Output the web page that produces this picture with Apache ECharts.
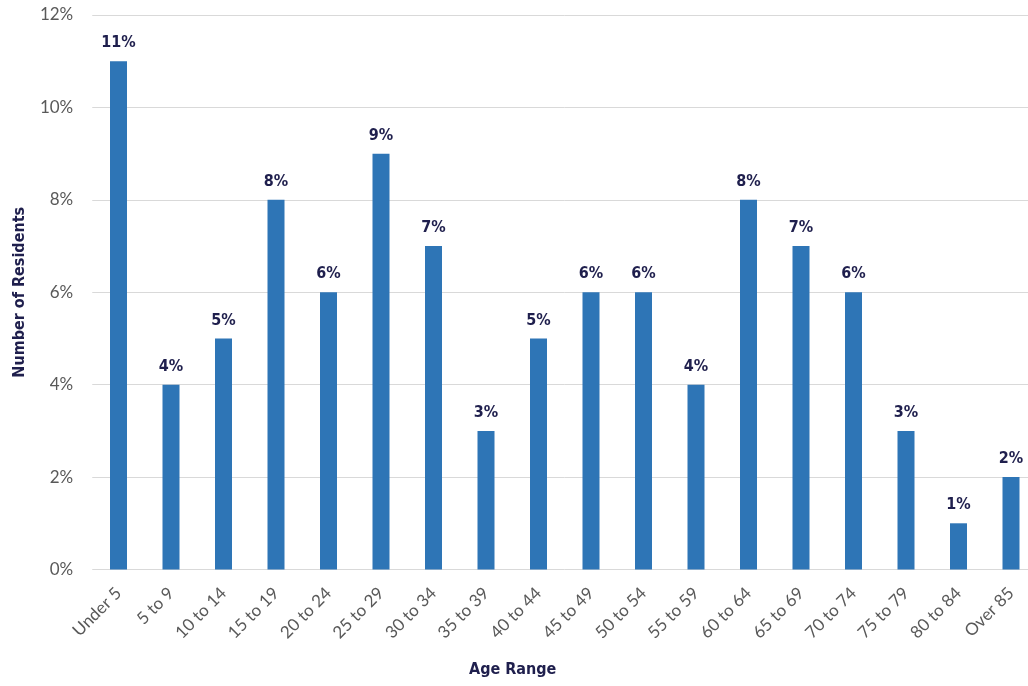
<!DOCTYPE html>
<html>
<head>
<meta charset="utf-8">
<script src="https://cdn.jsdelivr.net/npm/echarts@6/dist/echarts.min.js"></script>
<style>
  html, body { margin: 0; padding: 0; background: #ffffff; overflow: hidden; }
  #chart { width: 1040px; height: 686px; }
</style>
</head>
<body>
<div id="chart"></div>
<script>
// Share of residents by age range (percent)
const ageRanges = ["Under 5", "5 to 9", "10 to 14", "15 to 19", "20 to 24", "25 to 29",
  "30 to 34", "35 to 39", "40 to 44", "45 to 49", "50 to 54", "55 to 59",
  "60 to 64", "65 to 69", "70 to 74", "75 to 79", "80 to 84", "Over 85"];
const residentShare = [11, 4, 5, 8, 6, 9, 7, 3, 5, 6, 6, 4, 8, 7, 6, 3, 1, 2];
const yTicks = [0, 2, 4, 6, 8, 10, 12];

const chart = echarts.init(document.getElementById('chart'), null, { renderer: 'canvas' });

const titleFont = '"DejaVu Sans Condensed", "Liberation Sans Narrow", sans-serif';
const tickFont = 'Lato, "Open Sans", sans-serif';
const navy = '#1f1f4d';

chart.setOption({
  animation: false,
  backgroundColor: '#ffffff',
  // the last category runs slightly past the right edge of the page
  grid: { left: 92.25, top: 15, width: 945, bottom: 116.5, containLabel: false },
  graphic: [{
    type: 'text',
    left: 469,
    top: 662,
    style: {
      text: 'Age Range',
      font: 'bold 16px ' + titleFont,
      fill: navy
    }
  }],
  xAxis: {
    type: 'category',
    data: ageRanges,
    axisLine: { show: false },
    axisTick: { show: false },
    axisLabel: {
      rotate: 45,
      interval: 0,
      margin: 21,
      fontFamily: tickFont,
      fontSize: 17,
      color: '#595959'
    }
  },
  yAxis: {
    type: 'value',
    min: yTicks[0],
    max: yTicks[yTicks.length - 1],
    interval: 2,
    name: 'Number of Residents',
    nameLocation: 'middle',
    nameGap: 64,
    nameTextStyle: { fontFamily: titleFont, fontWeight: 'bold', fontSize: 16, color: navy },
    axisLine: { show: false },
    axisTick: { show: false },
    splitLine: { lineStyle: { color: '#d9d9d9', width: 1 } },
    axisLabel: {
      margin: 19,
      fontFamily: tickFont,
      fontSize: 17,
      color: '#595959',
      formatter: v => v + '%'
    }
  },
  series: [{
    type: 'bar',
    data: residentShare,
    barWidth: 17,
    itemStyle: { color: '#2e75b6' },
    label: {
      show: true,
      position: 'top',
      distance: 10,
      fontFamily: titleFont,
      fontWeight: 'bold',
      fontSize: 16,
      color: navy,
      formatter: p => p.value + '%'
    }
  }]
});
</script>
</body>
</html>
